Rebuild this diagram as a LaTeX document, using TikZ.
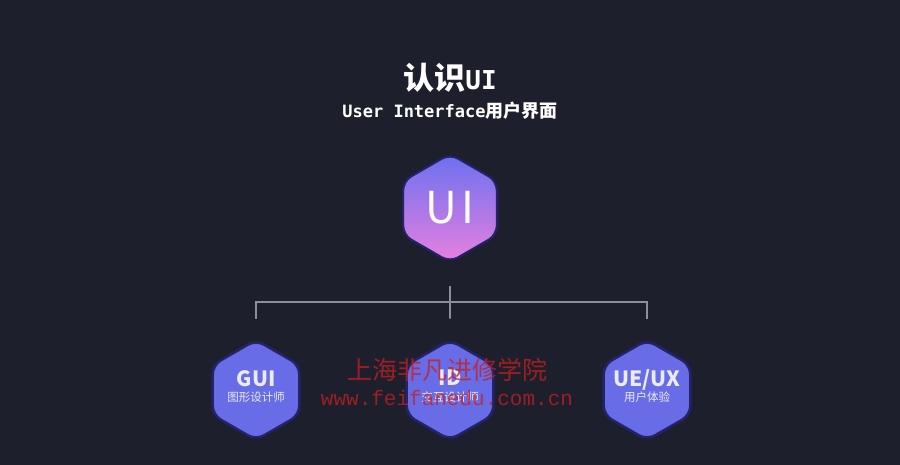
\documentclass[tikz,border=0pt]{standalone}
\usepackage{fontspec}
\setmainfont{Noto Sans CJK SC}
\newfontfamily\cjk{Noto Sans CJK SC}
\newfontfamily\mono{DejaVu Sans Mono}
\newfontfamily\wmmono{Liberation Mono}
\usepackage{xcolor}
\definecolor{bgdark}{HTML}{1E1F2D}
\definecolor{hexblue}{HTML}{686CE6}
\definecolor{hexedge}{HTML}{23236A}
\definecolor{gradtop}{HTML}{6A70F0}
\definecolor{gradbot}{HTML}{E880E0}
\definecolor{linkgray}{HTML}{8C8E9C}
\definecolor{softwhite}{HTML}{ECECF8}
\definecolor{stamp}{HTML}{C81E1E}
\usetikzlibrary{shapes.geometric,positioning}
% zero-size label so the hexagon keeps its size
\newcommand{\hexlabel}[2]{\makebox[0pt]{\smash{\begin{tabular}{@{}c@{}}%
  {\fontsize{21}{21}\selectfont\bfseries #1}\\[2pt]{\fontsize{11.5}{12}\selectfont #2}\end{tabular}}}}

\begin{document}
\begin{tikzpicture}[x=1pt, y=-1pt,
  hexa/.style={regular polygon, regular polygon sides=6, regular polygon rotate=30,
    rounded corners=9pt, inner sep=0pt, align=center},
  small/.style={hexa, minimum size=100pt, fill=hexblue, draw=hexedge,
    line width=2.5pt, text=softwhite},
  link/.style={linkgray, line width=1.6pt}]

  \fill[bgdark] (0,0) rectangle (900,465);
  \useasboundingbox (0,0) rectangle (900,465);

  % Titre
  \node[text=white, font=\bfseries] (title) at (450,78)
    {\fontsize{31}{31}\selectfont 认识{\mono\fontsize{26}{26}\selectfont UI}};
  \node[text=white, font=\bfseries, below=2pt of title] (subtitle)
    {{\mono\fontsize{17}{17}\selectfont User Interface}{\fontsize{18}{18}\selectfont 用户界面}};

  % Hexagones
  \node[hexa, minimum size=108pt, top color=gradtop, bottom color=gradbot,
    draw=hexedge, line width=2pt, text=white] (ui) at (450,208)
    {\fontsize{44}{44}\selectfont U\hspace{5pt}I};
  \node[small] (gui) at (256,390) {\hexlabel{GUI}{图形设计师}};
  \node[small] (id) at (450,390) {\hexlabel{ID}{交互设计师}};
  \node[small] (uex) at (647,390) {\hexlabel{UE/UX}{用户体验}};

  % Liaisons
  \coordinate (hub) at (450,302);
  \draw[link, shorten <=23pt, shorten >=20pt] (ui.south) -- (id.north);
  \foreach \n in {gui, uex}
    \draw[link, shorten >=20pt] (hub) -| (\n.north);

  % Filigrane
  \node[text=stamp, opacity=0.75, font=\cjk\fontsize{25}{25}\selectfont] (wmname) at (447,370)
    {上海非凡进修学院};
  \node[text=stamp, opacity=0.75, font=\wmmono\fontsize{21}{21}\selectfont, below=2pt of wmname] (wmurl)
    {www.feifanedu.com.cn};
\end{tikzpicture}
\end{document}
